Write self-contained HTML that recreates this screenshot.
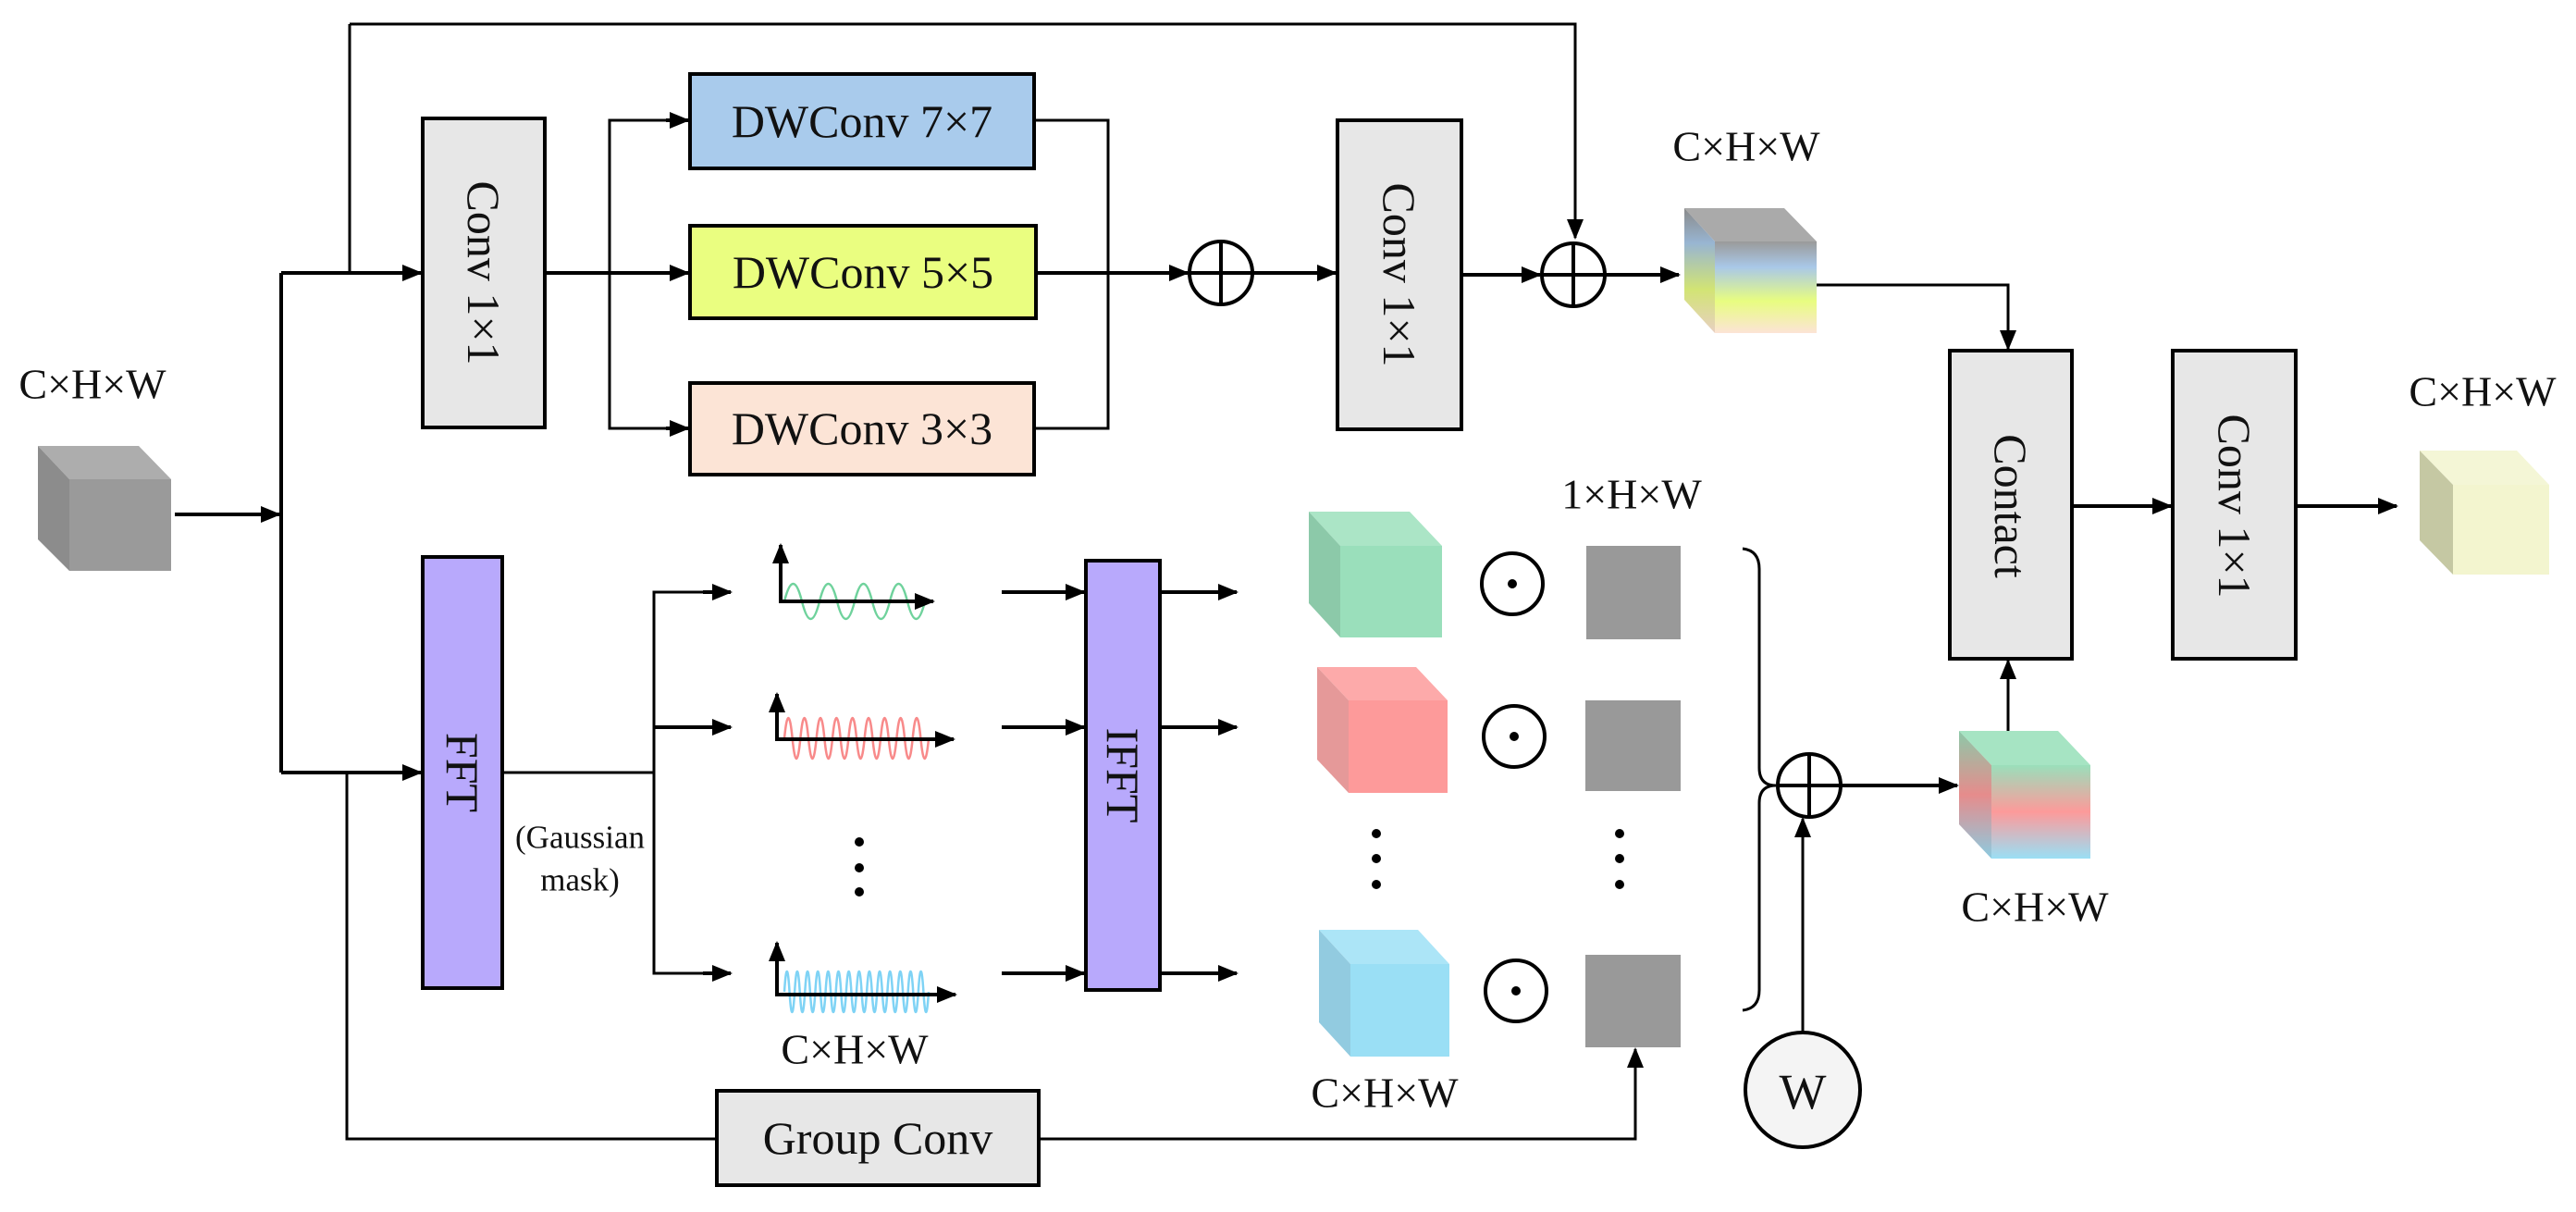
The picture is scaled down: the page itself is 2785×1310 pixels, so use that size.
<!DOCTYPE html>
<html><head><meta charset="utf-8"><style>
html,body{margin:0;padding:0;background:#fff;}
svg{display:block;}
text{font-family:"Liberation Serif",serif;fill:#111;}
</style></head><body>
<svg width="2785" height="1310" viewBox="0 0 2785 1310" xmlns="http://www.w3.org/2000/svg">
<defs>
<marker id="a" markerWidth="22" markerHeight="18" refX="20" refY="9" orient="auto" markerUnits="userSpaceOnUse"><path d="M0,0 L22,9 L0,18 z" fill="#000"/></marker>
<linearGradient id="g1" x1="0" y1="0" x2="0" y2="1"><stop offset="0" stop-color="#9a9a9a"/><stop offset="0.28" stop-color="#a9c8e8"/><stop offset="0.65" stop-color="#e8fd80"/><stop offset="1" stop-color="#fce4d6"/></linearGradient>
<linearGradient id="g1s" x1="0" y1="0" x2="0" y2="1"><stop offset="0" stop-color="#8a8a8a"/><stop offset="0.28" stop-color="#98b5d2"/><stop offset="0.65" stop-color="#d2e474"/><stop offset="1" stop-color="#e8d0c2"/></linearGradient>
<linearGradient id="g2" x1="0" y1="0" x2="0" y2="1"><stop offset="0" stop-color="#9adfbb"/><stop offset="0.5" stop-color="#fd9a9a"/><stop offset="1" stop-color="#9adff5"/></linearGradient>
<linearGradient id="g2s" x1="0" y1="0" x2="0" y2="1"><stop offset="0" stop-color="#8cc9a9"/><stop offset="0.5" stop-color="#e68c8c"/><stop offset="1" stop-color="#8ccbe0"/></linearGradient>
</defs>

<g stroke="#000" stroke-width="4" fill="none">
<!-- input -->
<line x1="189" y1="556" x2="302" y2="556" marker-end="url(#a)"/>
<line x1="304" y1="295" x2="304" y2="835"/>
<line x1="304" y1="295" x2="455" y2="295" marker-end="url(#a)"/>
<line x1="378" y1="26" x2="378" y2="295" stroke-width="3"/>
<polyline points="378,26 1703,26 1703,257" stroke-width="3" marker-end="url(#a)"/>
<line x1="304" y1="835" x2="455" y2="835" marker-end="url(#a)"/>
<polyline points="375,835 375,1231 775,1231" stroke-width="3"/>
<polyline points="1123,1231 1768,1231 1768,1134" stroke-width="3" marker-end="url(#a)"/>
<!-- top branch -->
<line x1="589" y1="295" x2="744" y2="295" marker-end="url(#a)"/>
<polyline points="744,130 659,130 659,463 744,463" stroke-width="3"/>
<line x1="720" y1="130" x2="744" y2="130" marker-end="url(#a)"/>
<line x1="720" y1="463" x2="744" y2="463" marker-end="url(#a)"/>
<polyline points="1118,130 1198,130 1198,463 1118,463" stroke-width="3"/>
<line x1="1120" y1="295" x2="1284" y2="295" marker-end="url(#a)"/>
<line x1="1354" y1="295" x2="1444" y2="295" marker-end="url(#a)"/>
<line x1="1580" y1="297" x2="1665" y2="297" marker-end="url(#a)"/>
<line x1="1735" y1="297" x2="1815" y2="297" marker-end="url(#a)"/>
<polyline points="1964,308 2171,308 2171,377" stroke-width="3" marker-end="url(#a)"/>
<line x1="2240" y1="547" x2="2347" y2="547" marker-end="url(#a)"/>
<line x1="2482" y1="547" x2="2591" y2="547" marker-end="url(#a)"/>
<!-- FFT branch -->
<line x1="543" y1="835" x2="707" y2="835" stroke-width="3"/>
<polyline points="790,640 707,640 707,1052 790,1052" stroke-width="3"/>
<line x1="760" y1="640" x2="790" y2="640" marker-end="url(#a)"/>
<line x1="707" y1="786" x2="790" y2="786" marker-end="url(#a)"/>
<line x1="760" y1="1052" x2="790" y2="1052" marker-end="url(#a)"/>
<line x1="1083" y1="640" x2="1172" y2="640" marker-end="url(#a)"/>
<line x1="1083" y1="786" x2="1172" y2="786" marker-end="url(#a)"/>
<line x1="1083" y1="1052" x2="1172" y2="1052" marker-end="url(#a)"/>
<line x1="1254" y1="640" x2="1337" y2="640" marker-end="url(#a)"/>
<line x1="1254" y1="786" x2="1337" y2="786" marker-end="url(#a)"/>
<line x1="1254" y1="1052" x2="1337" y2="1052" marker-end="url(#a)"/>
<!-- sum -->
<line x1="1990" y1="849" x2="2116" y2="849" marker-end="url(#a)"/>
<line x1="1949" y1="1116" x2="1949" y2="885" stroke-width="3" marker-end="url(#a)"/>
<line x1="2171" y1="790" x2="2171" y2="714" stroke-width="3" marker-end="url(#a)"/>
<!-- brace -->
<path d="M1884,593 Q1902,595 1902,615 L1902,830 Q1902,849 1920,849 Q1902,849 1902,868 L1902,1070 Q1902,1090 1884,1092" stroke-width="3"/>
</g>

<!-- boxes -->
<g stroke="#000" stroke-width="4">
<rect x="457" y="128" width="132" height="334" fill="#e7e7e7"/>
<rect x="746" y="80" width="372" height="102" fill="#a9cbec"/>
<rect x="746" y="244" width="374" height="100" fill="#eafe80"/>
<rect x="746" y="414" width="372" height="99" fill="#fce4d6"/>
<rect x="1446" y="130" width="134" height="334" fill="#e7e7e7"/>
<rect x="2108" y="379" width="132" height="333" fill="#e7e7e7"/>
<rect x="2349" y="379" width="133" height="333" fill="#e7e7e7"/>
<rect x="457" y="602" width="86" height="466" fill="#b8a9fc"/>
<rect x="1174" y="606" width="80" height="464" fill="#b8a9fc"/>
<rect x="775" y="1179" width="348" height="102" fill="#e7e7e7"/>
</g>

<!-- circles -->
<g stroke="#000" stroke-width="4" fill="#fff">
<circle cx="1320" cy="295" r="34"/><line x1="1286" y1="295" x2="1354" y2="295"/><line x1="1320" y1="261" x2="1320" y2="329"/>
<circle cx="1701" cy="297" r="34"/><line x1="1667" y1="297" x2="1735" y2="297"/><line x1="1701" y1="263" x2="1701" y2="331"/>
<circle cx="1956" cy="849" r="34"/><line x1="1922" y1="849" x2="1990" y2="849"/><line x1="1956" y1="815" x2="1956" y2="883"/>
<circle cx="1635" cy="631" r="33"/><circle cx="1637" cy="796" r="33"/><circle cx="1639" cy="1071" r="33"/>
<circle cx="1949" cy="1178" r="62" fill="#f4f4f4"/>
</g>
<g fill="#000"><circle cx="1635" cy="631" r="5"/><circle cx="1637" cy="796" r="5"/><circle cx="1639" cy="1071" r="5"/>
<circle cx="929" cy="910" r="5"/><circle cx="929" cy="938" r="5"/><circle cx="929" cy="964" r="5"/>
<circle cx="1488" cy="901" r="5"/><circle cx="1488" cy="928" r="5"/><circle cx="1488" cy="956" r="5"/>
<circle cx="1751" cy="901" r="5"/><circle cx="1751" cy="928" r="5"/><circle cx="1751" cy="956" r="5"/>
</g>

<!-- gray squares -->
<g fill="#999"><rect x="1715" y="590" width="102" height="101"/><rect x="1714" y="757" width="103" height="98"/><rect x="1714" y="1032" width="103" height="100"/></g>

<!-- cubes -->
<g>
<polygon points="41,482 150,482 185,518 75,518" fill="#adadad"/><polygon points="41,482 75,518 75,617 41,583" fill="#8c8c8c"/><rect x="75" y="518" width="110" height="99" fill="#9a9a9a"/>
<polygon points="1821,225 1929,225 1964,261 1854,261" fill="#aaaaaa"/><polygon points="1821,225 1854,261 1854,360 1821,324" fill="url(#g1s)"/><rect x="1854" y="261" width="110" height="99" fill="url(#g1)"/>
<polygon points="2616,487 2721,487 2756,524 2652,524" fill="#f4f6d6"/><polygon points="2616,487 2652,524 2652,621 2616,584" fill="#c5c8a3"/><rect x="2652" y="524" width="104" height="97" fill="#f3f5cf"/>
<polygon points="1415,553 1524,553 1559,590 1449,590" fill="#abe5c6"/><polygon points="1415,553 1449,590 1449,689 1415,652" fill="#8cc9a9"/><rect x="1449" y="590" width="110" height="99" fill="#9adfbb"/>
<polygon points="1424,721 1531,721 1565,757 1458,757" fill="#fdaaaa"/><polygon points="1424,721 1458,757 1458,857 1424,821" fill="#e59999"/><rect x="1458" y="757" width="107" height="100" fill="#fd9a9a"/>
<polygon points="1426,1005 1533,1005 1567,1042 1460,1042" fill="#ace5f7"/><polygon points="1426,1005 1460,1042 1460,1142 1426,1105" fill="#92cbe0"/><rect x="1460" y="1042" width="107" height="100" fill="#9adff5"/>
<polygon points="2118,790 2225,790 2260,827 2153,827" fill="#a6e4c3"/><polygon points="2118,790 2153,827 2153,928 2118,891" fill="url(#g2s)"/><rect x="2153" y="827" width="107" height="101" fill="url(#g2)"/>
</g>

<!-- sine waves -->
<path d="M848,650 q9.5,-38 19,0 t19,0 t19,0 t19,0 t19,0 t19,0 t19,0 t19,0" fill="none" stroke="#6fd29c" stroke-width="2.5"/>
<path d="M848,798 q4.33,-44 8.67,0 t8.67,0 t8.67,0 t8.67,0 t8.67,0 t8.67,0 t8.67,0 t8.67,0 t8.67,0 t8.67,0 t8.67,0 t8.67,0 t8.67,0 t8.67,0 t8.67,0 t8.67,0 t8.67,0 t8.67,0" fill="none" stroke="#f88a8a" stroke-width="2.5"/>
<path d="M848,1072 q2.79,-44 5.57,0 t5.57,0 t5.57,0 t5.57,0 t5.57,0 t5.57,0 t5.57,0 t5.57,0 t5.57,0 t5.57,0 t5.57,0 t5.57,0 t5.57,0 t5.57,0 t5.57,0 t5.57,0 t5.57,0 t5.57,0 t5.57,0 t5.57,0 t5.57,0 t5.57,0 t5.57,0 t5.57,0 t5.57,0 t5.57,0 t5.57,0 t5.57,0" fill="none" stroke="#7fd3f5" stroke-width="2.5"/>
<g stroke="#000" stroke-width="4" fill="none">
<line x1="844" y1="652" x2="844" y2="589" marker-end="url(#a)"/><line x1="842" y1="650" x2="1009" y2="650" marker-end="url(#a)"/>
<line x1="840" y1="801" x2="840" y2="750" marker-end="url(#a)"/><line x1="838" y1="799" x2="1031" y2="799" marker-end="url(#a)"/>
<line x1="840" y1="1077" x2="840" y2="1019" marker-end="url(#a)"/><line x1="838" y1="1075" x2="1033" y2="1075" marker-end="url(#a)"/>
</g>

<!-- text -->
<g font-size="50" text-anchor="middle" dominant-baseline="central">
<text x="932" y="131">DWConv 7×7</text>
<text x="933" y="294">DWConv 5×5</text>
<text x="932" y="463">DWConv 3×3</text>
<text x="949" y="1230">Group Conv</text>
<text transform="translate(523,295) rotate(90)">Conv 1×1</text>
<text transform="translate(1513,297) rotate(90)">Conv 1×1</text>
<text transform="translate(2416,547) rotate(90)">Conv 1×1</text>
<text transform="translate(2174,547) rotate(90)">Contact</text>
<text transform="translate(500,835) rotate(90)">FFT</text>
<text transform="translate(1214,838) rotate(90)">IFFT</text>
</g>
<g font-size="46" text-anchor="middle" dominant-baseline="central">
<text x="100" y="415">C×H×W</text>
<text x="1888" y="158">C×H×W</text>
<text x="2684" y="423">C×H×W</text>
<text x="1764" y="534">1×H×W</text>
<text x="924" y="1134">C×H×W</text>
<text x="1497" y="1181">C×H×W</text>
<text x="2200" y="980">C×H×W</text>
<text x="1949" y="1180" font-size="54">W</text>
</g>
<g font-size="35" text-anchor="middle" dominant-baseline="central">
<text x="627" y="905">(Gaussian</text>
<text x="627" y="951">mask)</text>
</g>
</svg>
</body></html>
